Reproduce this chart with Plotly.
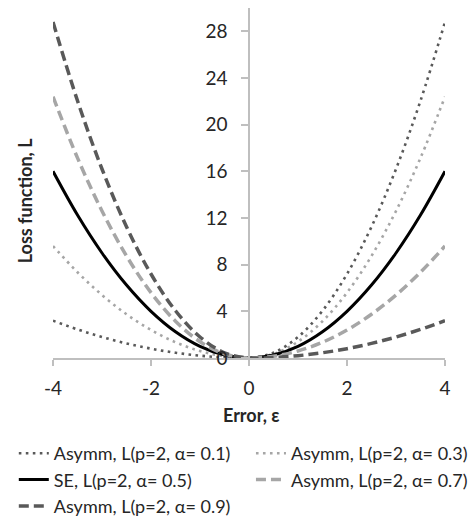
import plotly.graph_objects as go

# Error values (x) and loss values for each curve
error = [-4, -3.5, -3, -2.5, -2, -1.5, -1, -0.5, 0, 0.5, 1, 1.5, 2, 2.5, 3, 3.5, 4]

loss_a01 = [3.2, 2.45, 1.8, 1.25, 0.8, 0.45, 0.2, 0.05, 0, 0.45, 1.8, 4.05, 7.2, 11.25, 16.2, 22.05, 28.8]
loss_a03 = [9.6, 7.35, 5.4, 3.75, 2.4, 1.35, 0.6, 0.15, 0, 0.35, 1.4, 3.15, 5.6, 8.75, 12.6, 17.15, 22.4]
loss_se = [16, 12.25, 9, 6.25, 4, 2.25, 1, 0.25, 0, 0.25, 1, 2.25, 4, 6.25, 9, 12.25, 16]
loss_a07 = [22.4, 17.15, 12.6, 8.75, 5.6, 3.15, 1.4, 0.35, 0, 0.15, 0.6, 1.35, 2.4, 3.75, 5.4, 7.35, 9.6]
loss_a09 = [28.8, 22.05, 16.2, 11.25, 7.2, 4.05, 1.8, 0.45, 0, 0.05, 0.2, 0.45, 0.8, 1.25, 1.8, 2.45, 3.2]

names = [
    "Asymm, L(p=2, α= 0.1)",
    "Asymm, L(p=2, α= 0.3)",
    "SE, L(p=2, α= 0.5)",
    "Asymm, L(p=2, α= 0.7)",
    "Asymm, L(p=2, α= 0.9)",
]

x_ticks = [-4, -2, 0, 2, 4]
y_ticks = [0, 4, 8, 12, 16, 20, 24, 28]

styles = [
    dict(color="#595959", width=2.6, dash="2.6px,4.4px"),
    dict(color="#a6a6a6", width=2.6, dash="2.6px,4.4px"),
    dict(color="#000000", width=3, dash="solid"),
    dict(color="#a6a6a6", width=3.5, dash="10px,5px"),
    dict(color="#595959", width=3.5, dash="10px,5px"),
]
# two-column key: left column holds α = 0.1, 0.5, 0.9; right column α = 0.3, 0.7
legend_ids = ["legend", "legend2", "legend", "legend2", "legend"]

FONT = "Lato"
TEXT = "#262626"

fig = go.Figure()
for ys, name, st, lg in zip([loss_a01, loss_a03, loss_se, loss_a07, loss_a09], names, styles, legend_ids):
    fig.add_trace(go.Scatter(
        x=error, y=ys, name=name, mode="lines", legend=lg,
        line=dict(shape="spline", smoothing=1, **st),
    ))

legend_common = dict(
    orientation="v", xanchor="left", y=-0.22, yanchor="top",
    font=dict(family=FONT, size=18, color=TEXT),
    itemwidth=30, bgcolor="rgba(0,0,0,0)", tracegroupgap=0,
)

fig.update_layout(
    width=469, height=520,
    margin=dict(l=53, r=24, t=8, b=162, autoexpand=False),
    paper_bgcolor="white", plot_bgcolor="white",
    font=dict(family=FONT, size=18, color=TEXT),
    showlegend=True,
    legend=dict(x=-0.1, **legend_common),
    legend2=dict(x=0.505, **legend_common),
    xaxis=dict(
        range=[-4, 4], tickvals=x_ticks, ticktext=[str(v) for v in x_ticks],
        showgrid=False, zeroline=False, showline=True, linecolor="#bfbfbf", linewidth=1.5,
        ticks="outside", ticklen=6, tickcolor="#bfbfbf", tickwidth=1.5,
        tickfont=dict(family=FONT, size=19, color=TEXT),
        ticklabelstandoff=6,
    ),
    yaxis=dict(
        range=[0, 30], tickvals=y_ticks, ticktext=[str(v) for v in y_ticks],
        anchor="free", position=0.5,
        showgrid=False, zeroline=False, showline=True, linecolor="#bfbfbf", linewidth=1.5,
        ticks="outside", ticklen=7, tickcolor="#bfbfbf", tickwidth=1.5,
        tickfont=dict(family=FONT, size=19, color=TEXT),
        ticklabelstandoff=10,
    ),
    annotations=[
        dict(text="<b>Loss function, L</b>", xref="paper", yref="paper",
             x=-0.071, y=0.451, xanchor="center", yanchor="middle", textangle=-90,
             showarrow=False, font=dict(family=FONT, size=18, color=TEXT)),
        dict(text="<b>Error, ε</b>", xref="paper", yref="paper",
             x=0.505, y=-0.163, xanchor="center", yanchor="middle",
             showarrow=False, font=dict(family=FONT, size=18, color=TEXT)),
    ],
)

fig.write_html("out.html")
